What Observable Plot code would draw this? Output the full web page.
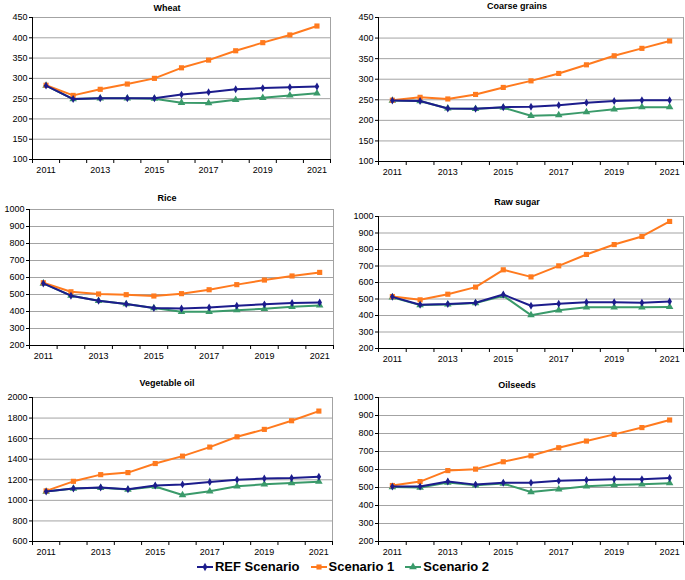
<!DOCTYPE html>
<html><head><meta charset="utf-8">
<script src="https://cdn.jsdelivr.net/npm/d3@7"></script>
<script src="https://cdn.jsdelivr.net/npm/@observablehq/plot@0.6"></script>
<style>
body{margin:0;background:#fff;font-family:"Liberation Sans",Arial,sans-serif;}
#wrap{position:relative;width:685px;height:580px;overflow:hidden;}
.panel{position:absolute;}
.title{position:absolute;font-weight:bold;font-size:9px;transform:translate(-50%,-50%);white-space:nowrap;color:#000;}
#legend{position:absolute;left:0;width:685px;top:559px;text-align:center;font-weight:bold;font-size:13px;white-space:nowrap;}
#legend span.item{display:inline-flex;align-items:center;margin:0 5px;}
#legend svg{margin-right:1px;}
</style></head><body><div id="wrap"><div id="legend"></div></div>
<script>
const years = [2011,2012,2013,2014,2015,2016,2017,2018,2019,2020,2021];
const yearLabels = [2011,2013,2015,2017,2019,2021];
const seriesNames = ["REF Scenario","Scenario 1","Scenario 2"];
const panelTitles = ["Wheat","Coarse grains","Rice","Raw sugar","Vegetable oil","Oilseeds"];

const wheatRef = [282,249,251,251,251,260,266,273,276,278,280];
const wheatS1  = [283,258,273,286,300,326,345,368,388,407,429];
const wheatS2  = [282,249,251,251,250,240,239,247,252,258,263];

const coarseRef = [248,247,229,228,232,233,237,243,247,249,249];
const coarseS1  = [249,256,252,263,280,296,314,335,357,375,393];
const coarseS2  = [248,247,229,228,231,211,213,220,227,232,232];

const riceRef = [565,493,463,444,420,418,424,434,442,450,453];
const riceS1  = [569,516,503,499,491,505,528,558,585,609,630];
const riceS2  = [565,493,463,444,420,398,398,408,416,428,436];

const sugarRef = [513,465,469,477,527,459,471,481,481,477,485];
const sugarS1  = [515,495,529,572,677,634,701,770,830,879,970];
const sugarS2  = [510,463,467,475,520,402,432,450,450,450,452];

const vegRef = [1085,1115,1125,1108,1145,1155,1178,1200,1212,1218,1230];
const vegS1  = [1092,1185,1250,1270,1358,1430,1518,1618,1690,1774,1868];
const vegS2  = [1085,1115,1122,1105,1135,1052,1088,1137,1156,1169,1182];

const oilRef = [505,505,533,516,526,526,537,542,546,546,553];
const oilS1  = [511,533,594,602,643,676,721,758,795,833,875];
const oilS2  = [503,500,528,512,522,475,490,507,514,518,524];

const wheatTicks  = [100,150,200,250,300,350,400,450];
const coarseTicks = [100,150,200,250,300,350,400,450];
const riceTicks   = [200,300,400,500,600,700,800,900,1000];
const sugarTicks  = [200,300,400,500,600,700,800,900,1000];
const vegTicks    = [600,800,1000,1200,1400,1600,1800,2000];
const oilTicks    = [200,300,400,500,600,700,800,900,1000];

const colors = ["#1c1c8c","#ff7a1e","#3a9a6a"];
const symbols = ["diamond","square","triangle"];

const panelData = [
  [wheatRef, wheatS1, wheatS2, wheatTicks],
  [coarseRef, coarseS1, coarseS2, coarseTicks],
  [riceRef, riceS1, riceS2, riceTicks],
  [sugarRef, sugarS1, sugarS2, sugarTicks],
  [vegRef, vegS1, vegS2, vegTicks],
  [oilRef, oilS1, oilS2, oilTicks]
];

// layout: svg box [left, top, width, height], frame [x0, x1, y0, y1] (absolute), title [cx, cy]
const layout = [
  {box:[0,0,340,182],   frame:[32,330,17,159],   title:[167,8]},
  {box:[340,0,345,182], frame:[378,683,17,161],  title:[517,6]},
  {box:[0,190,340,178], frame:[29,333,209,345],  title:[167,198]},
  {box:[340,190,345,181],frame:[378,683,216,348],title:[517,202]},
  {box:[0,375,340,189], frame:[32,332,397,541],  title:[167,383]},
  {box:[340,375,345,189],frame:[378,683,397,541],title:[517,385]}
];

const wrap = document.getElementById("wrap");
const fmt = d3.format("d");
const boundaries = d3.range(years.length + 1).map(i => years[0] - 0.5 + i);

panelData.forEach((pd, i) => {
  const [ref, s1, s2, ticks] = pd;
  const L = layout[i];
  const [bl, bt, bw, bh] = L.box;
  const [fx0, fx1, fy0, fy1] = L.frame;
  const rows = [];
  [ref, s1, s2].forEach((arr, k) => arr.forEach((v, j) => rows.push({year: years[j], value: v, series: seriesNames[k]})));
  const order = [2, 1, 0];
  const marks = [
    Plot.gridY(ticks, {stroke: "#a3a3a3", strokeOpacity: 1, strokeWidth: 1}),
    Plot.ruleX([boundaries[boundaries.length - 1]], {stroke: "#a3a3a3", strokeWidth: 1}),
    Plot.axisX(boundaries, {tickSize: 4, tickFormat: () => "", stroke: "#000", label: null}),
    Plot.axisX(yearLabels, {tickSize: 0, tickPadding: 7, tickFormat: fmt, fill: "#000", fontSize: 9, label: null}),
    Plot.axisY(ticks, {tickSize: 3, tickPadding: 2, tickFormat: fmt, fill: "#000", fontSize: 9, stroke: "#000", label: null}),
    Plot.ruleX([boundaries[0]], {stroke: "#000", strokeWidth: 1}),
    Plot.ruleY([ticks[0]], {stroke: "#000", strokeWidth: 1})
  ];
  order.forEach(k => {
    const sub = rows.filter(r => r.series === seriesNames[k]);
    marks.push(Plot.line(sub, {x: "year", y: "value", stroke: colors[k], strokeWidth: 2}));
    marks.push(Plot.dot(sub, {x: "year", y: "value", fill: colors[k], stroke: "none", symbol: symbols[k], r: k === 0 ? 2.4 : (k === 1 ? 2.9 : 2.8)}));
  });
  const chart = Plot.plot({
    width: bw, height: bh,
    marginLeft: fx0 - bl, marginRight: bl + bw - fx1,
    marginTop: fy0 - bt, marginBottom: bt + bh - fy1,
    x: {type: "linear", domain: [boundaries[0], boundaries[boundaries.length - 1]], axis: null, label: null},
    y: {type: "linear", domain: [ticks[0], ticks[ticks.length - 1]], axis: null, label: null},
    style: {fontFamily: "'Liberation Sans', Arial, sans-serif", fontSize: "9px", background: "transparent", overflow: "visible", color: "#000"},
    marks
  });
  const div = document.createElement("div");
  div.className = "panel";
  div.style.left = bl + "px"; div.style.top = bt + "px";
  div.appendChild(chart);
  wrap.appendChild(div);
  const t = document.createElement("div");
  t.className = "title";
  t.style.left = L.title[0] + "px"; t.style.top = L.title[1] + "px";
  t.textContent = panelTitles[i];
  wrap.appendChild(t);
});

// legend
const legend = document.getElementById("legend");
seriesNames.forEach((name, k) => {
  const item = document.createElement("span");
  item.className = "item";
  const svg = d3.create("svg").attr("width", 18).attr("height", 10);
  svg.append("line").attr("x1", 1).attr("x2", 17).attr("y1", 5).attr("y2", 5).attr("stroke", colors[k]).attr("stroke-width", 2);
  const sym = [d3.symbolDiamond, d3.symbolSquare, d3.symbolTriangle][k];
  svg.append("path").attr("d", d3.symbol(sym, k === 0 ? 20 : 26)()).attr("transform", "translate(9,5)").attr("fill", colors[k]);
  item.appendChild(svg.node());
  const txt = document.createElement("span");
  txt.textContent = name;
  item.appendChild(txt);
  legend.appendChild(item);
});
</script>
</body></html>
